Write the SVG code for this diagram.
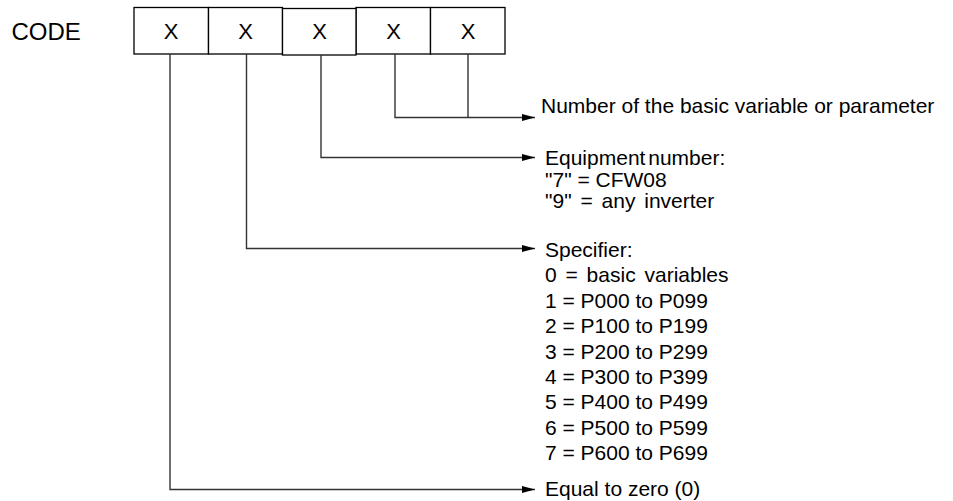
<svg xmlns="http://www.w3.org/2000/svg" width="953" height="501" viewBox="0 0 953 501">
<style>
text{font-family:"Liberation Sans",Arial,sans-serif;fill:#000}
.lbl{font-size:21px}
.x{font-size:22px;text-anchor:middle}
.box{fill:#fff;stroke:#000;stroke-width:1.3}
.ln{fill:none;stroke:#333;stroke-width:1.4}
</style>
<defs>
<marker id="ah" markerWidth="13" markerHeight="8" refX="13" refY="4" orient="auto" markerUnits="userSpaceOnUse">
<path d="M0,0.5 L13,4 L0,7.5 Z" fill="#000"/>
</marker>
</defs>
<rect width="953" height="501" fill="#fff"/>
<g id="code-label"><text x="11.5" y="39.5" style="font-size:24px">CODE</text></g>
<g id="digit1"><rect class="box" x="134" y="7.5" width="74.5" height="46.5"/><text class="x" x="171" y="38.5">X</text></g>
<g id="digit2"><rect class="box" x="208.5" y="7.5" width="74" height="46.5"/><text class="x" x="245.5" y="38.5">X</text></g>
<g id="digit4"><rect class="box" x="356" y="7.5" width="74.5" height="46.5"/><text class="x" x="393.5" y="38.5">X</text></g>
<g id="digit5"><rect class="box" x="430.5" y="7.5" width="74.5" height="46.5"/><text class="x" x="468" y="38.5">X</text></g>
<g id="digit3"><rect class="box" x="282.5" y="8.5" width="73.5" height="46.5"/><text class="x" x="319.5" y="39">X</text></g>
<g id="connectors">
<polyline class="ln" points="395,54 395,117.5 535,117.5" marker-end="url(#ah)"/>
<line class="ln" x1="468" y1="54" x2="468" y2="117.5"/>
<polyline class="ln" points="321,55 321,157.5 535,157.5" marker-end="url(#ah)"/>
<polyline class="ln" points="246.5,54 246.5,248.5 535,248.5" marker-end="url(#ah)"/>
<polyline class="ln" points="170,54 170,489.5 535,489.5" marker-end="url(#ah)"/>
</g>
<g id="desc-number"><text class="lbl" x="541" y="113">Number of the basic variable or parameter</text></g>
<g id="desc-equipment">
<text class="lbl" x="545" y="165" style="word-spacing:-3px">Equipment number:</text>
<text class="lbl" x="545" y="186.5">"7" = CFW08</text>
<text class="lbl" x="545" y="208" style="word-spacing:3px">"9" = any inverter</text>
</g>
<g id="desc-specifier">
<text class="lbl" x="545" y="257">Specifier:</text>
<text class="lbl" x="545" y="282.4" style="word-spacing:3px">0 = basic variables</text>
<text class="lbl" x="545" y="307.8">1 = P000 to P099</text>
<text class="lbl" x="545" y="333.2">2 = P100 to P199</text>
<text class="lbl" x="545" y="358.6">3 = P200 to P299</text>
<text class="lbl" x="545" y="384">4 = P300 to P399</text>
<text class="lbl" x="545" y="409.4">5 = P400 to P499</text>
<text class="lbl" x="545" y="434.8">6 = P500 to P599</text>
<text class="lbl" x="545" y="460.2">7 = P600 to P699</text>
</g>
<g id="desc-zero"><text class="lbl" x="545" y="495.5">Equal to zero (0)</text></g>
</svg>
